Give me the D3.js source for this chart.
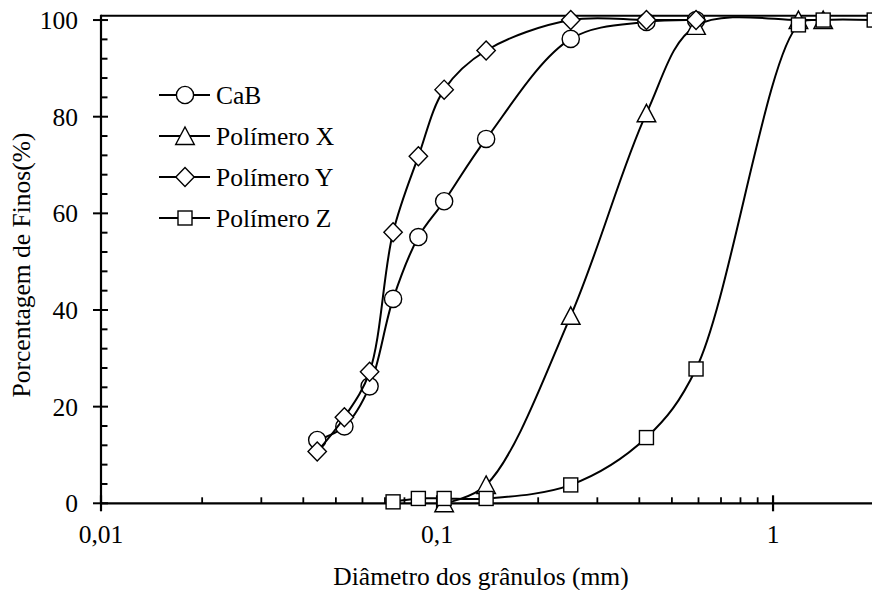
<!DOCTYPE html>
<html><head><meta charset="utf-8">
<script src="https://cdn.jsdelivr.net/npm/d3@7"></script>
<style>body{margin:0;background:#fff}svg{display:block}text{font-family:"Liberation Serif","Times New Roman",serif;fill:#000}</style>
</head><body><svg id="c" width="872" height="590"></svg>
<script>
// ---- data ----
const seriesNames = ["CaB", "Polímero X", "Polímero Y", "Polímero Z"];
const cabX = [0.044, 0.053, 0.063, 0.074, 0.088, 0.105, 0.14, 0.25, 0.42, 0.59];
const cabY = [13.1, 15.9, 24.2, 42.3, 55.1, 62.5, 75.4, 96.1, 99.6, 100];
const polXx = [0.105, 0.14, 0.25, 0.42, 0.59, 1.19, 1.41];
const polXy = [0, 3.8, 38.8, 80.7, 98.8, 100, 100];
const polYx = [0.044, 0.053, 0.063, 0.074, 0.088, 0.105, 0.14, 0.25, 0.42, 0.59];
const polYy = [10.7, 17.8, 27.2, 56.1, 71.8, 85.6, 93.7, 100, 100, 100];
const polZx = [0.074, 0.088, 0.105, 0.14, 0.25, 0.42, 0.59, 1.19, 1.41, 2.0];
const polZy = [0.3, 1.0, 1.0, 1.0, 3.8, 13.6, 27.8, 99.0, 100, 100];
const xTickValues = [0.01, 0.1, 1];
const xTickLabels = ["0,01", "0,1", "1"];
const yTickValues = [0, 20, 40, 60, 80, 100];
const xTitle = "Diâmetro dos grânulos (mm)";
const yTitle = "Porcentagem de Finos(%)";

// ---- layout ----
const svg = d3.select("#c");
const L = 101, B = 503.3, T = 15.7, R = 874.2;
const x = d3.scaleLog().domain([0.01, 2]).range([L, R]);
const y = d3.scaleLinear().domain([0, 100.9]).range([B, T]);
const FS = 25.5;

const series = [
  {name: seriesNames[0], xs: cabX, ys: cabY, shape: "circle"},
  {name: seriesNames[1], xs: polXx, ys: polXy, shape: "triangle"},
  {name: seriesNames[2], xs: polYx, ys: polYy, shape: "diamond"},
  {name: seriesNames[3], xs: polZx, ys: polZy, shape: "square"}
];

function drawMarker(g, shape, cx, cy) {
  const s = {fill: "#fff", stroke: "#000", "stroke-width": 1.4};
  let el;
  if (shape === "circle") el = g.append("circle").attr("cx", cx).attr("cy", cy).attr("r", 8.6);
  else if (shape === "square") el = g.append("rect").attr("x", cx - 7).attr("y", cy - 7).attr("width", 14).attr("height", 14);
  else if (shape === "diamond") el = g.append("path").attr("d", `M${cx},${cy-9.5}L${cx+9.2},${cy}L${cx},${cy+9.5}L${cx-9.2},${cy}Z`);
  else el = g.append("path").attr("d", `M${cx},${cy-9}L${cx+9.3},${cy+8.5}L${cx-9.3},${cy+8.5}Z`);
  for (const k in s) el.attr(k, s[k]);
}

// ---- axes ----
const ax = svg.append("g");
ax.append("line").attr("x1", L).attr("x2", 872).attr("y1", T).attr("y2", T).attr("stroke", "#000").attr("stroke-width", 2);
ax.append("line").attr("x1", L).attr("x2", L).attr("y1", T - 1).attr("y2", B).attr("stroke", "#000").attr("stroke-width", 2.2);
ax.append("line").attr("x1", L).attr("x2", 872).attr("y1", B).attr("y2", B).attr("stroke", "#000").attr("stroke-width", 2.2);

const yMinor = d3.range(4, 100, 4).filter(v => v % 20 !== 0);
yMinor.forEach(v => ax.append("line").attr("x1", L).attr("x2", L + 6.5).attr("y1", y(v)).attr("y2", y(v)).attr("stroke", "#000").attr("stroke-width", 2));
yTickValues.forEach(v => {
  ax.append("line").attr("x1", L - 8).attr("x2", L + 7).attr("y1", y(v)).attr("y2", y(v)).attr("stroke", "#000").attr("stroke-width", 2);
  ax.append("text").attr("x", 78).attr("y", y(v)).attr("dy", "0.35em").attr("text-anchor", "end").attr("font-size", FS).text(v);
});
const xMinor = [];
[0.01, 0.1, 1].forEach(d => { for (let k = 2; k <= 9; k++) { const v = d * k; if (v < 2) xMinor.push(v); } });
xMinor.forEach(v => ax.append("line").attr("x1", x(v)).attr("x2", x(v)).attr("y1", B).attr("y2", B - 6).attr("stroke", "#000").attr("stroke-width", 1.8));
xTickValues.forEach((v, i) => {
  ax.append("line").attr("x1", x(v)).attr("x2", x(v)).attr("y1", B - 8).attr("y2", B + 8).attr("stroke", "#000").attr("stroke-width", 2.2);
  ax.append("text").attr("x", x(v)).attr("y", 543).attr("text-anchor", "middle").attr("font-size", FS).text(xTickLabels[i]);
});

svg.append("text").attr("x", 481).attr("y", 585).attr("text-anchor", "middle").attr("font-size", FS).text(xTitle);
svg.append("text").attr("transform", "translate(30,265) rotate(-90)").attr("text-anchor", "middle").attr("font-size", FS).text(yTitle);

// ---- series ----
const line = d3.line().x(d => x(d[0])).y(d => y(d[1])).curve(d3.curveCatmullRom.alpha(0.5));
series.forEach(s => {
  const pts = s.xs.map((v, i) => [v, s.ys[i]]);
  const g = svg.append("g");
  g.append("path").attr("d", line(pts)).attr("fill", "none").attr("stroke", "#000").attr("stroke-width", 2);
  pts.forEach(p => drawMarker(g, s.shape, x(p[0]), y(p[1])));
});

// ---- legend ----
const legY = [95, 136, 177, 218];
series.forEach((s, i) => {
  const g = svg.append("g");
  g.append("line").attr("x1", 159).attr("x2", 210).attr("y1", legY[i]).attr("y2", legY[i]).attr("stroke", "#000").attr("stroke-width", 2);
  drawMarker(g, s.shape, 185, legY[i]);
  g.append("text").attr("x", 216).attr("y", legY[i]).attr("dy", "0.35em").attr("font-size", FS).text(s.name);
});
</script></body></html>
